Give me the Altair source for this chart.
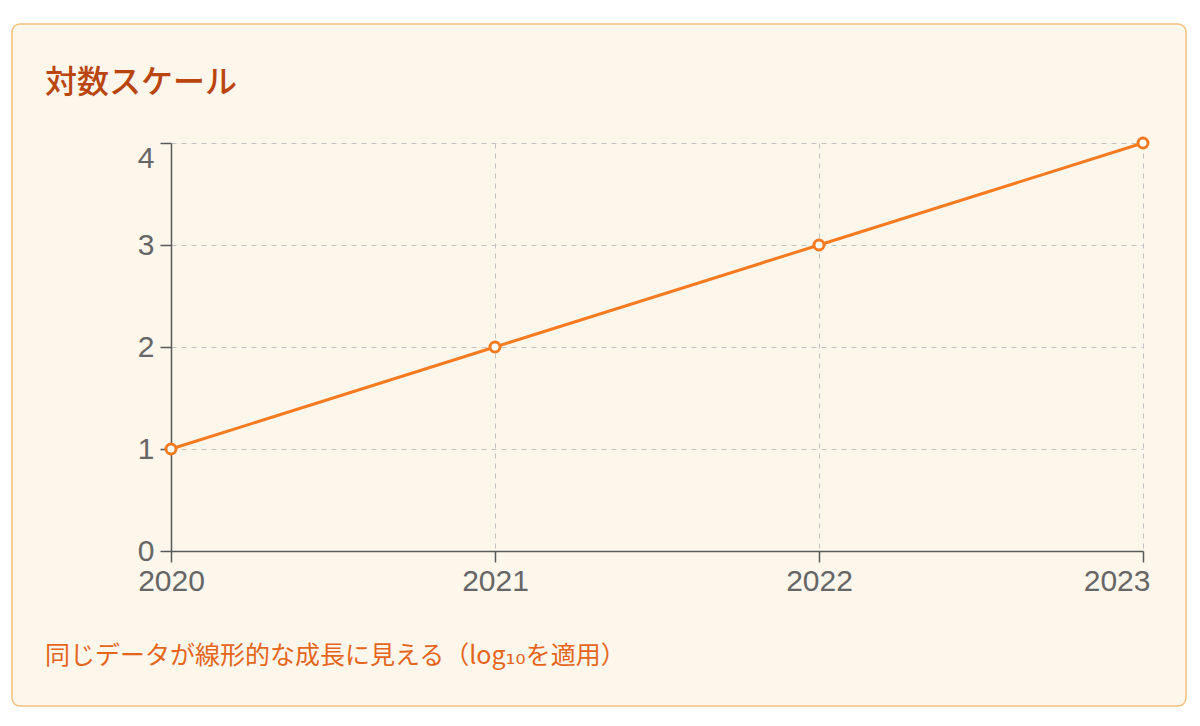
import altair as alt
import pandas as pd

years = [2020, 2021, 2022, 2023]
raw_values = [10, 100, 1000, 10000]
title_text = "対数スケール"
note_text = "同じデータが線形的な成長に見える（log₁₀を適用）"

df = pd.DataFrame({"year": years, "raw": raw_values})
card_df = pd.DataFrame({"k": [0]})

JP = "'Noto Sans CJK JP', 'DejaVu Sans', sans-serif"
NUM = "Liberation Sans"

# white frame outside the card (only covers the margin area, not the axes)
frame = alt.Chart(card_df).mark_rect(
    fillOpacity=0, stroke="white", strokeWidth=40, cornerRadius=28, clip=False
).encode(
    x=alt.value(-179), x2=alt.value(1035), y=alt.value(-139), y2=alt.value(583)
)

border = alt.Chart(card_df).mark_rect(
    fillOpacity=0, stroke="#f4c07c", strokeWidth=1.5, cornerRadius=8, clip=False
).encode(
    x=alt.value(-159), x2=alt.value(1015), y=alt.value(-119), y2=alt.value(563)
)

title = alt.Chart(card_df).mark_text(
    text=title_text, font=JP, fontSize=32, fontWeight=500, color="#b9450f",
    align="left", baseline="middle", clip=False
).encode(x=alt.value(-126), y=alt.value(-60))

note = alt.Chart(card_df).mark_text(
    text=note_text, font=JP, fontSize=25, color="#e4661c",
    align="left", baseline="middle", clip=False
).encode(x=alt.value(-126), y=alt.value(513))

line = alt.Chart(df).transform_calculate(
    logv="log(datum.raw) / LN10"
).mark_line(
    color="#f47b20", strokeWidth=3,
    point=alt.OverlayMarkDef(shape="circle", fill="white", filled=True, stroke="#f47b20", strokeWidth=3, size=100, opacity=1)
).encode(
    x=alt.X("year:Q", scale=alt.Scale(domain=[2020, 2023], nice=False, zero=False),
            axis=alt.Axis(values=years, format="d", title=None,
                          labelAlign={"condition": {"test": "datum.value == 2023", "value": "right"}, "value": "center"},
                          labelOffset={"condition": {"test": "datum.value == 2023", "value": 7}, "value": 0},
                          labelPadding=4)),
    y=alt.Y("logv:Q", scale=alt.Scale(domain=[0, 4], nice=False),
            axis=alt.Axis(values=[0, 1, 2, 3, 4], format="d", title=None,
                          labelBaseline={"condition": {"test": "datum.value == 4", "value": "top"}, "value": "middle"},
                          labelPadding=6)),
)

chart = alt.layer(line, frame, border, title, note).properties(
    width=972, height=408,
    background="#fdf6eb",
    autosize=alt.AutoSizeParams(type="none"),
    padding={"left": 163, "top": 135, "right": 49, "bottom": 167},
).configure_view(stroke=None).configure_axis(
    domainColor="#5a5a5a", domainWidth=1.5,
    tickColor="#5a5a5a", tickWidth=1.5, tickSize=11,
    labelFont=NUM, labelFontSize=30, labelColor="#666666",
    gridColor="#c2c2c2", gridDash=[5, 5], gridWidth=1,
)

chart.save("out.html", embed_options={"renderer": "svg", "actions": False})
